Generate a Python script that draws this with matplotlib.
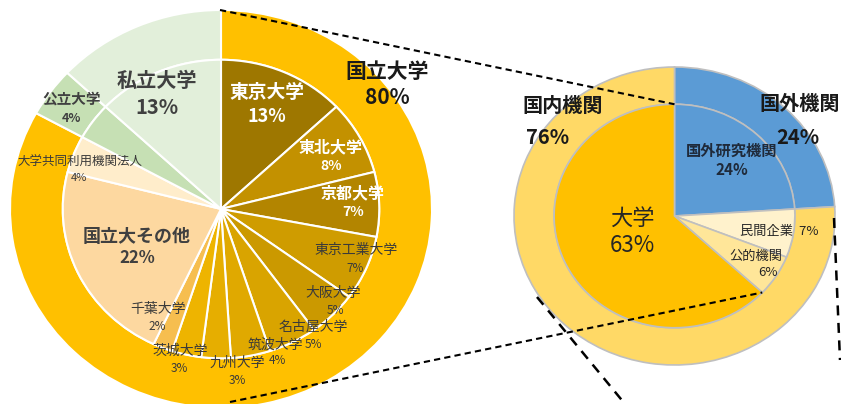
import matplotlib
matplotlib.use("Agg")
import matplotlib.pyplot as plt
import numpy as np

plt.rcParams['font.family'] = ['Noto Sans CJK JP', 'DejaVu Sans']

# ---------------- data ----------------
# left pie (inner ring)
inner_labels = ["東京大学", "東北大学", "京都大学", "東京工業大学", "大阪大学", "名古屋大学",
                "筑波大学", "九州大学", "茨城大学", "千葉大学", "国立大その他",
                "大学共同利用機関法人", "公立大学", "私立大学"]
inner_values = [13, 8, 7, 7, 5, 5, 4, 3, 3, 2, 22, 4, 4, 13]
# left pie (outer ring) groups
outer_labels = ["国立大学", "公立大学", "私立大学"]
outer_values = [sum(inner_values[:12]), 4, 13]
outer_pct_labels = ["80%", "4%", "13%"]

# right pie
right_outer_labels = ["国外機関", "国内機関"]
right_outer_values = [24, 76]
right_inner_labels = ["国外研究機関", "民間企業", "公的機関", "大学"]
right_inner_values = [24, 7, 6, 63]

# ---------------- styles ----------------
inner_colors = ["#9E7700", "#C39100", "#B38500", "#CF9C00", "#CB9900", "#D9A400",
                "#E0A900", "#E6AE00", "#EEB400", "#F6BE4F", "#FDD8A0",
                "#FFEDCB", "#C6E0B4", "#E2EFDA"]
outer_colors = ["#FFC000", "#C6E0B4", "#E2EFDA"]
r_outer_colors = ["#5B9BD5", "#FFD966"]
r_inner_colors = ["#5B9BD5", "#FFF2CC", "#FFE699", "#FFC000"]

W, H = 841, 404
fig = plt.figure(figsize=(W / 100, H / 100), dpi=100)

def axes_for(cx, cy, rx, ry):
    return fig.add_axes([(cx - rx) / W, (H - (cy + ry)) / H, 2 * rx / W, 2 * ry / H])

INNER_R = 0.75

# left pie
L_cx, L_cy, L_rx, L_ry = 221, 209, 211, 199
axL = axes_for(L_cx, L_cy, L_rx, L_ry)
axL.pie(outer_values, colors=outer_colors, radius=1.0, startangle=90, counterclock=False,
        wedgeprops=dict(width=1 - INNER_R, edgecolor="white", linewidth=1.5))
axL.pie(inner_values, colors=inner_colors, radius=INNER_R, startangle=90, counterclock=False,
        wedgeprops=dict(edgecolor="white", linewidth=1.5))
axL.set_aspect("auto")
axL.set_xlim(-1, 1)
axL.set_ylim(-1, 1)
axL.axis("off")

# right pie
R_cx, R_cy, R_rx, R_ry = 674.5, 216, 160.5, 149
axR = axes_for(R_cx, R_cy, R_rx, R_ry)
axR.pie(right_outer_values, colors=r_outer_colors, radius=1.0, startangle=90, counterclock=False,
        wedgeprops=dict(width=1 - INNER_R, edgecolor="#BFBFBF", linewidth=1.2))
axR.pie(right_inner_values, colors=r_inner_colors, radius=INNER_R, startangle=90, counterclock=False,
        wedgeprops=dict(edgecolor="#BFBFBF", linewidth=1.2))
axR.set_aspect("auto")
axR.set_xlim(-1, 1)
axR.set_ylim(-1, 1)
axR.axis("off")

# overlay in pixel coordinates
ov = fig.add_axes([0, 0, 1, 1], zorder=10)
ov.set_xlim(0, W)
ov.set_ylim(H, 0)
ov.axis("off")
ov.patch.set_alpha(0)

def rpt(r, ang):
    a = np.deg2rad(ang)
    return R_cx + R_rx * r * np.cos(a), R_cy - R_ry * r * np.sin(a)

# wedge angles of right inner pie
cum = np.cumsum([0] + right_inner_values)
tot = cum[-1]
starts = 90 - 360 * cum[:-1] / tot
ends = 90 - 360 * cum[1:] / tot
mids = (starts + ends) / 2

# dashed connector lines
top_pt = rpt(INNER_R, 90)
bot_pt = rpt(INNER_R, starts[3])
ov.plot([220, top_pt[0]], [10, top_pt[1]], color="black", lw=1.5, ls=(0, (3, 2)))
ov.plot([230, bot_pt[0]], [402, bot_pt[1]], color="black", lw=1.5, ls=(0, (3, 2)))
ov.plot([537, 625], [297, 404], color="black", lw=1.8, ls=(0, (4, 3)))
ov.plot([834, 840], [218, 360], color="black", lw=1.8, ls=(0, (4, 3)))

def T(x, y, s, size, color="#404040", weight="normal"):
    ov.text(x, y, s, fontsize=size, color=color, fontweight=weight, ha="center", va="center")

# left labels
dk = "#1a1a1a"
T(387, 72, outer_labels[0], 15, dk, "bold")
T(387, 98, outer_pct_labels[0], 15, dk, "bold")
T(267, 92, inner_labels[0], 13.5, "white", "bold")
T(267, 116, "13%", 13, "white", "bold")
T(331, 147, inner_labels[1], 11.5, "white", "bold")
T(331, 166, "8%", 10, "white", "bold")
T(353, 193, inner_labels[2], 11.5, "white", "bold")
T(353, 212, "7%", 10, "white", "bold")
T(356, 250, inner_labels[3], 10, "#3a3a3a")
T(355, 268, "7%", 8.5, "#3a3a3a")
T(333, 293, inner_labels[4], 10, "#3a3a3a")
T(335, 310, "5%", 8.5, "#3a3a3a")
T(313, 327, inner_labels[5], 10, "#3a3a3a")
T(275, 345, inner_labels[6], 10, "#3a3a3a")
T(313, 344, "5%", 8.5, "#3a3a3a")
T(237, 363, inner_labels[7], 10, "#3a3a3a")
T(277, 361, "4%", 8.5, "#3a3a3a")
T(237, 380, "3%", 8.5, "#3a3a3a")
T(180, 351, inner_labels[8], 10, "#3a3a3a")
T(179, 368, "3%", 8.5, "#3a3a3a")
T(158, 309, inner_labels[9], 10, "#3a3a3a")
T(157, 326, "2%", 8.5, "#3a3a3a")
T(137, 236, inner_labels[10], 13, "#404040", "bold")
T(137, 258, "22%", 12, "#404040", "bold")
T(80, 162, inner_labels[11], 9, "#3a3a3a")
T(79, 178, "4%", 8, "#3a3a3a")
T(72, 99, outer_labels[1], 10.5, "#404040", "bold")
T(71, 118, outer_pct_labels[1], 9, "#404040", "bold")
T(157, 80, outer_labels[2], 14.5, "#404040", "bold")
T(157, 107, outer_pct_labels[2], 14.5, "#404040", "bold")

# right labels
T(563, 105, right_outer_labels[1], 14.5, dk, "bold")
T(548, 137, "76%", 14.5, dk, "bold")
T(800, 103, right_outer_labels[0], 14.5, dk, "bold")
T(798, 137, "24%", 14.5, dk, "bold")

x, y = rpt(0.52, mids[0])
T(x, y - 9, right_inner_labels[0], 11, "#1f2a3a", "bold")
T(x, y + 10, "24%", 11, "#1f2a3a", "bold")
x, y = rpt(0.66, mids[1])
T(x, y, right_inner_labels[1] + "  7%", 9.5, "#262626")
x, y = rpt(0.6, mids[2])
T(x, y - 8, right_inner_labels[2], 9.5, "#262626")
T(x + 12, y + 9, "6%", 9.5, "#262626")
T(632, 218, right_inner_labels[3], 16, "#262626")
T(632, 245, "63%", 16, "#262626")

fig.savefig("out.png", dpi=100)
